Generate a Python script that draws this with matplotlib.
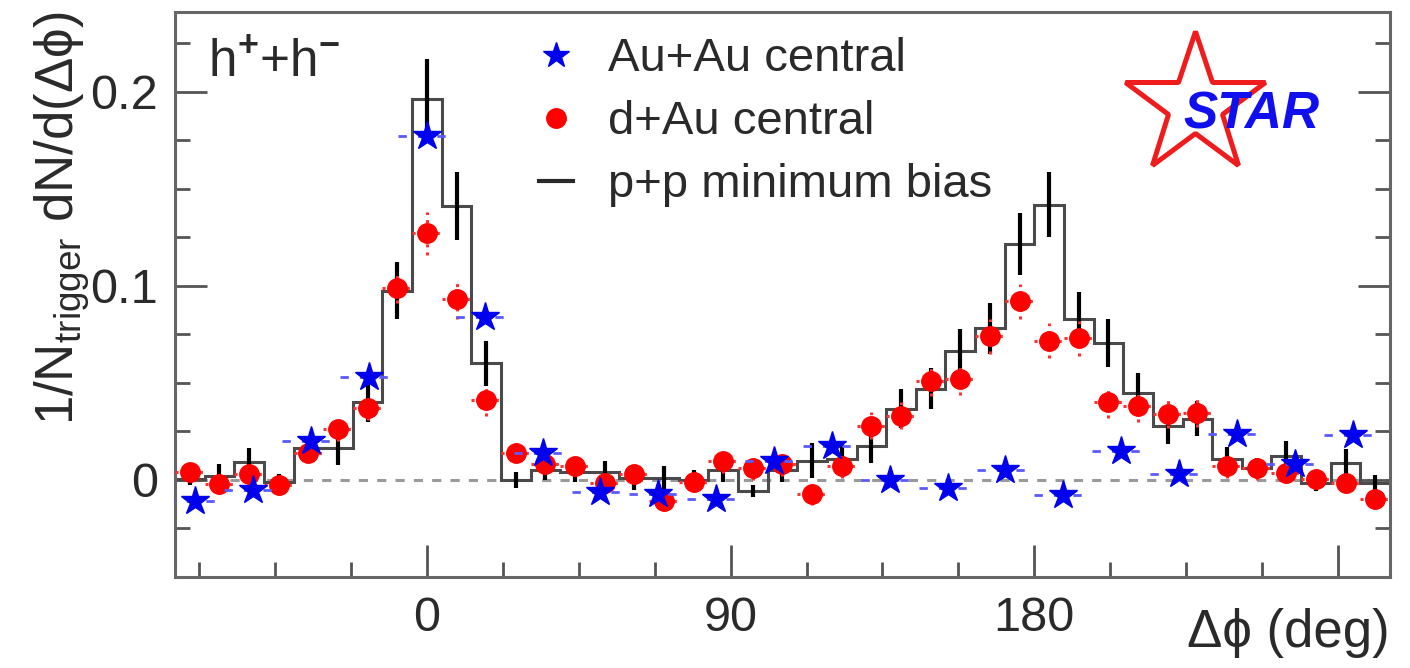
import numpy as np
import matplotlib
matplotlib.use("Agg")
import matplotlib.pyplot as plt
from matplotlib.lines import Line2D

plt.rcParams["font.family"] = ["Liberation Sans", "DejaVu Sans"]
plt.rcParams["mathtext.fontset"] = "custom"
plt.rcParams["mathtext.rm"] = "Liberation Sans"
plt.rcParams["mathtext.it"] = "Liberation Sans:italic"
plt.rcParams["mathtext.bf"] = "Liberation Sans:bold"

# binning: 41 d+Au / p+p bins and 21 Au+Au bins spanning 360 deg
n_bins = 41
n_bins_auau = 21
k_auau = np.arange(-4, 17)

# p+p minimum bias (histogram)
pp_vals = [0.0005, 0.002, 0.009, -0.001, 0.0165, 0.0165, 0.040, 0.0975, 0.196, 0.141,
           0.060, 0.0, 0.005, 0.004, 0.004, 0.001, 0.001, 0.0, 0.005, -0.0057,
           0.005, 0.010, 0.011, 0.0175, 0.0366, 0.047, 0.0665, 0.078, 0.1217, 0.1418,
           0.083, 0.0706, 0.0448, 0.028, 0.0315, 0.0108, 0.0062, 0.0124, -0.0015, 0.0088,
           -0.0015]
pp_err = [0.003, 0.006, 0.0075, 0.004, 0.006, 0.009, 0.010, 0.0145, 0.021, 0.0175,
          0.0115, 0.004, 0.005, 0.005, 0.006, 0.006, 0.006, 0.005, 0.006, 0.003,
          0.006, 0.009, 0.009, 0.009, 0.010, 0.0105, 0.011, 0.013, 0.016, 0.0167,
          0.0137, 0.0124, 0.0103, 0.0095, 0.009, 0.006, 0.005, 0.0075, 0.004, 0.007,
          0.004]

# d+Au central
dau_vals = [0.004, -0.002, 0.003, -0.0026, 0.014, 0.026, 0.037, 0.099, 0.127, 0.093,
            0.041, 0.014, 0.008, 0.007, -0.0015, 0.003, -0.011, -0.001, 0.0098, 0.006,
            0.008, -0.007, 0.007, 0.028, 0.033, 0.051, 0.052, 0.074, 0.092, 0.0717,
            0.073, 0.040, 0.038, 0.034, 0.0345, 0.007, 0.006, 0.0036, 0.0005, -0.0015,
            -0.010]
dau_err = [0.005, 0.005, 0.005, 0.005, 0.005, 0.006, 0.006, 0.008, 0.011, 0.010,
           0.008, 0.005, 0.005, 0.005, 0.005, 0.005, 0.005, 0.005, 0.006, 0.006,
           0.006, 0.006, 0.006, 0.007, 0.007, 0.008, 0.008, 0.009, 0.009, 0.009,
           0.009, 0.008, 0.008, 0.007, 0.007, 0.006, 0.006, 0.005, 0.005, 0.005,
           0.005]

# Au+Au central
auau_vals = [-0.011, -0.005, 0.020, 0.053, 0.177, 0.084, 0.014, -0.006, -0.007, -0.010,
             0.010, 0.0175, 0.000, -0.004, 0.005, -0.008, 0.015, 0.003, 0.0237, 0.008,
             0.023]

legend_labels = ["Au+Au central", "d+Au central", "p+p minimum bias"]

width = 360.0 / n_bins
centers = (np.arange(n_bins) - 8) * width
edges = (np.arange(n_bins + 1) - 8.5) * width
width_auau = 360.0 / n_bins_auau
centers_auau = k_auau * width_auau

TXT = "#2a2a2a"

fig = plt.figure(figsize=(14.1, 6.68), dpi=100)
ax = fig.add_axes([0.1241, 0.1362, 0.8617, 0.8458])

ax.axhline(0, color="#9a9a9a", lw=2.2, ls=(0, (3, 3)), zorder=1)

# p+p histogram with error bars
ax.stairs(pp_vals, edges, color="#4a4a4a", lw=2.2, zorder=2)
ax.errorbar(centers, pp_vals, yerr=pp_err, fmt="none", ecolor="black",
            elinewidth=3.0, capsize=0, zorder=3)

# d+Au points
dau = ax.errorbar(centers, dau_vals, yerr=dau_err, xerr=width / 2, fmt="o",
                  color="red", ms=14, ecolor="#ff3030", elinewidth=2.2,
                  capsize=0, zorder=4)
dau[2][0].set_linestyle(":")
dau[2][1].set_linestyle(":")

# Au+Au points
auau = ax.errorbar(centers_auau, auau_vals, xerr=width_auau / 2, fmt="*",
                   color="#0000ee", ms=21, ecolor="#5a5aff", elinewidth=2.0,
                   capsize=0, zorder=5)
auau[2][0].set_linestyle((0, (3, 4)))

ax.set_xlim(edges[0], edges[-1])
ax.set_ylim(-0.05, 0.241)

ax.set_xticks([0, 90, 180, 270])
ax.set_xticklabels(["0", "90", "180", ""])
ax.set_xticks(np.arange(-67.5, 285, 22.5), minor=True)
ax.set_yticks([0, 0.1, 0.2])
ax.set_yticklabels(["0", "0.1", "0.2"])
ax.set_yticks(np.arange(-0.025, 0.24, 0.025), minor=True)

ax.tick_params(axis="both", which="both", direction="in", color="#555555",
               labelcolor=TXT, labelsize=35, right=True, top=False)
ax.tick_params(which="major", length=23, width=2)
ax.tick_params(which="minor", length=11, width=2)
ax.tick_params(axis="x", pad=14)
ax.tick_params(axis="y", pad=12)
for s in ax.spines.values():
    s.set_color("#666666")
    s.set_linewidth(2.2)

ax.set_ylabel(r"1/N$_{\mathrm{trigger}}$ dN/d(Δϕ)", fontsize=38, color=TXT,
              loc="top")
ax.yaxis.set_label_coords(-0.068, 1.0)
ax.set_xlabel("Δϕ (deg)", fontsize=38, color=TXT, loc="right")
ax.xaxis.set_label_coords(1.0, -0.055)

ax.text(0.027, 0.885, r"h$^{\mathbf{+}}$+h$^{\mathbf{-}}$", transform=ax.transAxes,
        fontsize=37, color=TXT, va="baseline", ha="left")

handles = [
    Line2D([], [], ls="none", marker="*", color="#0000ee", ms=19),
    Line2D([], [], ls="none", marker="o", color="red", ms=14),
    Line2D([], [], color=TXT, lw=3),
]
leg = ax.legend(handles, legend_labels, loc="upper left",
                bbox_to_anchor=(0.30, 0.955), frameon=False, fontsize=34,
                handlelength=0.7, handletextpad=0.75, labelspacing=0.4,
                borderpad=0, borderaxespad=0)
for t in leg.get_texts():
    t.set_color(TXT)

# STAR logo
ax.plot([0.8395], [0.835], marker="*", ms=106, mfc="none", mec="#ee1c1c",
        mew=3.6, transform=ax.transAxes, clip_on=False, zorder=6)
ax.text(0.8856, 0.817, "STAR", transform=ax.transAxes, fontsize=37,
        fontweight="bold", fontstyle="italic", color="#1010ee",
        ha="center", va="center", zorder=7)

fig.savefig("out.png", dpi=100, facecolor="white")
